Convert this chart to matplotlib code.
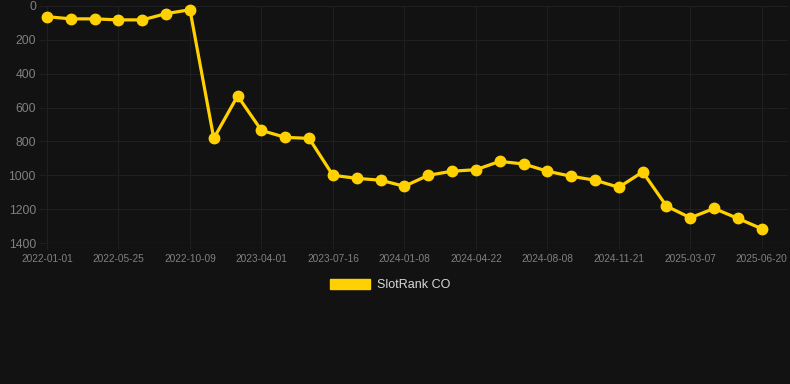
import matplotlib
matplotlib.use("Agg")
from matplotlib import pyplot as plt
from matplotlib.patches import Patch

plt.rcParams['font.family'] = ['Liberation Sans', 'DejaVu Sans']

# rank of the game per snapshot (lower on chart = worse rank)
ranks = [63, 76, 76, 82, 82, 45, 22, 782, 531, 735, 776, 782,
         1000, 1018, 1029, 1065, 1000, 976, 967, 918, 933, 976,
         1006, 1029, 1071, 980, 1182, 1251, 1196, 1255, 1316]
tick_labels = ["2022-01-01", "2022-05-25", "2022-10-09", "2023-04-01",
               "2023-07-16", "2024-01-08", "2024-04-22", "2024-08-08",
               "2024-11-21", "2025-03-07", "2025-06-20"]
y_ticks = [0, 200, 400, 600, 800, 1000, 1200, 1400]
series_name = "SlotRank CO"

bg = "#121212"
gold = "#FFD100"
grid_col = "#1f1f1f"
label_col = "#808080"

fig = plt.figure(figsize=(7.9, 3.84), dpi=100, facecolor=bg)
ax = fig.add_axes([47 / 790, 1 - 243 / 384, 741 / 790, 237 / 384])
ax.set_facecolor(bg)

xs = list(range(len(ranks)))
ax.plot(xs, ranks, color=gold, linewidth=2.3, marker="o",
        markersize=7.5, markerfacecolor=gold, markeredgecolor=gold,
        zorder=3, clip_on=False)

step = 3
ax.set_xticks(xs[::step][:len(tick_labels)])
ax.set_xticklabels(tick_labels)
ax.set_xlim(0, 31.1)
ax.set_yticks(y_ticks)
ax.set_ylim(1400, 0)

ax.grid(True, color=grid_col, linewidth=0.8)
ax.set_axisbelow(True)
for s in ax.spines.values():
    s.set_visible(False)
ax.tick_params(axis="x", colors=grid_col, labelcolor=label_col,
               labelsize=7.3, length=4, pad=4)
ax.tick_params(axis="y", colors=grid_col, labelcolor=label_col,
               labelsize=8.8, length=6, pad=2)
ax.axhline(1400, color="#2a2a2a", linewidth=0.9)

handle = Patch(facecolor=gold, edgecolor=gold)
leg = fig.legend([handle], [series_name], loc="center",
                 bbox_to_anchor=(0.494, 1 - 285 / 384), frameon=False,
                 handlelength=3.2, handleheight=0.9, fontsize=9,
                 labelcolor="#d8d8d8", handletextpad=0.5)

fig.savefig("out.png", dpi=100, facecolor=bg)
